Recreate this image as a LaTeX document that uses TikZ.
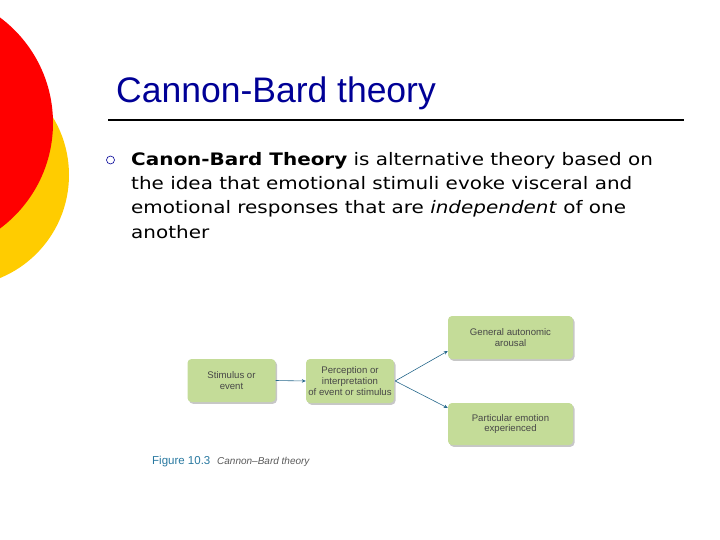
\documentclass[tikz,border=0pt]{standalone}
\usepackage{fontspec}
\setmainfont{Liberation Sans}
\newfontfamily\bodyfont[FakeStretch=1.16]{DejaVu Sans}
\usetikzlibrary{arrows.meta}
\definecolor{titleblue}{RGB}{0,0,150}
\definecolor{boxgreen}{RGB}{196,220,152}
\definecolor{arrowblue}{RGB}{40,105,140}
\definecolor{capblue}{RGB}{40,120,160}
\definecolor{circred}{RGB}{255,0,0}
\definecolor{circyellow}{RGB}{255,204,0}
\tikzset{
  box/.style={fill=boxgreen, rounded corners=4pt, minimum width=#1, inner sep=1pt, align=center,
    font=\fontsize{9.6}{10.8}\selectfont, text=black!72,
    preaction={fill=black!22, transform canvas={xshift=1.5pt,yshift=-1.8pt}}},
  conn/.style={draw=arrowblue, line width=0.6pt, -{Stealth[length=4pt,width=3.5pt]}},
  bodyline/.style={anchor=base west, inner sep=0pt, font=\bodyfont\fontsize{17.2}{20}\selectfont}
}
\begin{document}
\begin{tikzpicture}[x=1pt,y=-1pt]
\useasboundingbox (0,0) rectangle (720,540);
\begin{scope}
\clip (0,0) rectangle (720,540);
\fill[circyellow] (-42.4,175) circle (111.4);
\fill[circred] (-78.5,123) circle (131.5);
\end{scope}
% title
\node[anchor=base west, inner sep=0pt, text=titleblue, font=\fontsize{35.5}{40}\selectfont] (title) at (116,103) {Cannon-Bard theory};
\draw[line width=1.6pt] (108,120) -- (684,120);
% bullet
\draw[titleblue, line width=0.6pt] (110.5,160) circle (4);
\node[bodyline] (l1) at (131,166) {\textbf{Canon-Bard Theory} is alternative theory based on};
\node[bodyline] (l2) at (131,190) {the idea that emotional stimuli evoke visceral and};
\node[bodyline] (l3) at (131,214) {emotional responses that are \textit{independent} of one};
\node[bodyline] (l4) at (131,238) {another};
% boxes
\node[box=88pt, minimum height=43pt] (stim) at (231.5,380.5) {Stimulus or\\event};
\node[box=88pt, minimum height=44pt] (perc) at (350,381) {Perception or\\interpretation\\of event or stimulus};
\node[box=125pt, minimum height=43pt] (gen) at (510.5,337.5) {General autonomic\\arousal};
\node[box=125pt, minimum height=42pt] (part) at (510.5,424) {Particular emotion\\experienced};
\draw[conn] (stim.east) -- (perc.east -| perc.west);
\coordinate (src) at ([xshift=1pt]perc.east);
\draw[conn] (src) -- ([yshift=-13.5pt]gen.west);
\draw[conn] (src) -- ([yshift=16pt]part.west);
% caption
\node[anchor=base west, inner sep=0pt, text=capblue, font=\fontsize{11.5}{12}\selectfont] (fig) at (152,464.5) {Figure 10.3};
\node[anchor=base west, inner sep=0pt, text=black!65, font=\itshape\fontsize{10}{11}\selectfont] (capt) at (217,464.5) {Cannon--Bard theory};
\end{tikzpicture}
\end{document}
